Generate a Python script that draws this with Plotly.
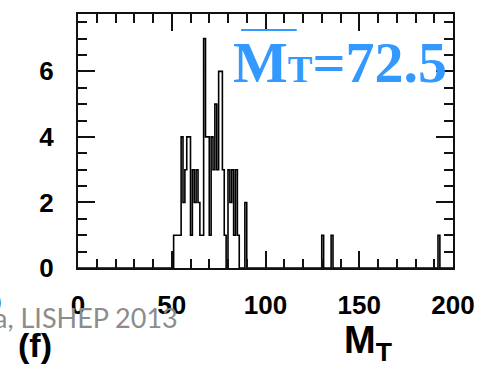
import plotly.graph_objects as go

# M_T distribution, 1-unit bins on [0, 200]; only filled bins listed
bin_low = [51, 52, 53, 54, 55, 56, 57, 58, 59, 60, 61, 62, 63, 64, 65, 66, 67,
           68, 69, 70, 71, 72, 73, 74, 75, 76, 77, 78, 80, 81, 82, 83, 84, 85,
           89, 130, 135, 192]
bin_count = [1, 1, 1, 1, 4, 2, 3, 4, 4, 1, 3, 2, 3, 2, 1, 1, 7,
             4, 4, 1, 4, 3, 5, 3, 6, 6, 3, 1, 3, 2, 3, 1, 3, 1,
             2, 1, 1, 1]

x_range = [0, 200]
y_range = [0, 7.75]
x_major = 50
x_minor = 10
y_major = 2
y_minor = 0.5
mean_text = "72.5"
panel_tag = "(f)"
footer_text = "a, LISHEP 2013"

W, H = 487, 368
ML, MR, MT, MB = 78, 25, 14, 100
PW, PH = W - ML - MR, H - MT - MB


def px(x):
    return (x - ML) / PW


def py(y):
    return (H - MB - y) / PH


n_bins = x_range[1] - x_range[0]
counts = [0] * n_bins
for lo, c in zip(bin_low, bin_count):
    counts[lo] = c
edges = list(range(x_range[0], x_range[1] + 1))
step_y = counts + [counts[-1]]

fig = go.Figure(go.Scatter(
    x=edges, y=step_y, mode="lines",
    line=dict(shape="hv", color="black", width=1.6),
    hoverinfo="skip", showlegend=False,
))

tick_font = dict(family="Liberation Sans", size=26, color="black", weight="bold")
axis_common = dict(
    showline=True, linewidth=2, linecolor="#111", mirror="allticks",
    ticks="inside", ticklen=17, tickwidth=2, tickcolor="#111",
    showgrid=False, zeroline=False, tickfont=tick_font,
)

fig.update_xaxes(range=x_range, dtick=x_major, tick0=0, ticklabelstandoff=13,
                 minor=dict(dtick=x_minor, ticklen=9, tickwidth=2,
                            tickcolor="#111", ticks="inside"),
                 **axis_common)
fig.update_yaxes(range=y_range, dtick=y_major, tick0=0, ticklabelstandoff=17,
                 minor=dict(dtick=y_minor, ticklen=9, tickwidth=2,
                            tickcolor="#111", ticks="inside"),
                 **axis_common)

blue = "#3399ff"
annotations = [
    dict(x=px(235), y=py(62), xanchor="left", yanchor="middle",
         text='M<span style="font-size:37px">T</span>=' + mean_text,
         font=dict(family="Liberation Serif", size=58, color=blue, weight="bold")),
    dict(x=px(348), y=py(343), xanchor="left", yanchor="middle",
         text="M<sub>T</sub>",
         font=dict(family="Liberation Sans", size=38, color="black", weight="bold")),
    dict(x=px(15), y=py(345), xanchor="left", yanchor="middle",
         text=panel_tag,
         font=dict(family="Liberation Sans", size=34, color="black", weight="bold")),
    dict(x=px(1), y=py(303), xanchor="right", yanchor="middle",
         text="0",
         font=dict(family="Liberation Sans", size=26, color="black", weight="bold")),
    dict(x=px(182), y=py(317), xanchor="right", yanchor="middle",
         text=footer_text,
         font=dict(family="Lato", size=27, color="#8c8c8c")),
]
for a in annotations:
    a.update(xref="paper", yref="paper", showarrow=False)

fig.update_layout(
    width=W, height=H,
    margin=dict(l=ML, r=MR, t=MT, b=MB),
    paper_bgcolor="white", plot_bgcolor="white",
    annotations=annotations,
    shapes=[dict(type="line", xref="paper", yref="paper",
                 x0=px(245), x1=px(302), y0=py(30), y1=py(30),
                 line=dict(color=blue, width=2))],
)

fig.write_html("out.html")
